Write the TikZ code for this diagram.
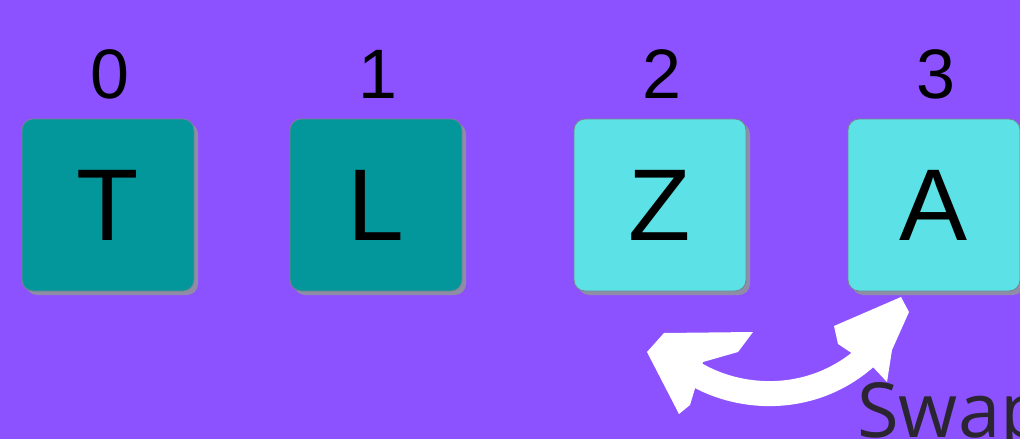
\documentclass[tikz,border=0pt]{standalone}
\usepackage{fontspec}
\setmainfont{Liberation Sans}
\newfontfamily\swapfont{Open Sans}
\definecolor{bgpurple}{HTML}{8C52FF}
\definecolor{darkteal}{HTML}{03979C}
\definecolor{lightcyan}{HTML}{5CE1E6}
\definecolor{shadowgray}{HTML}{8E8CA6}
\definecolor{edgegray}{HTML}{7A8290}
\definecolor{swapgray}{HTML}{2A2530}
\tikzset{
  tile/.style={rounded corners=11pt, minimum width=172pt, minimum height=172pt,
    draw=edgegray, line width=0.8pt, inner sep=0pt,
    font=\fontsize{102}{102}\selectfont},
  tileshadow/.style={rounded corners=11pt, minimum width=172pt, minimum height=172pt,
    fill=shadowgray, draw=none, inner sep=0pt},
  idx/.style={font=\fontsize{70}{70}\selectfont, inner sep=0pt},
  swaparrow/.style={white, line width=25pt},
}
\begin{document}
\begin{tikzpicture}[x=1pt,y=-1pt]
\useasboundingbox (0,0) rectangle (1020,439);
\clip (0,0) rectangle (1020,439);
\fill[bgpurple] (0,0) rectangle (1020,439);
% shadows
\foreach \cx in {108,376,660,934} {
  \node[tileshadow] at (\cx+4,209) {};
}
% tiles
\node[tile, fill=darkteal] (t0) at (108,205) {T};
\node[tile, fill=darkteal] (t1) at (376,205) {L};
\node[tile, fill=lightcyan] (t2) at (660,205) {Z};
\node[tile, fill=lightcyan] (t3) at (934,205) {A};
% indices
\node[idx] (i0) at (110,74) {0};
\node[idx] (i1) at (378,74) {1};
\node[idx] (i2) at (662,74) {2};
\node[idx] (i3) at (936,74) {3};
% swap arrow
\coordinate (aL) at (692,372);
\coordinate (aR) at (884,338);
\draw[swaparrow] (aL) .. controls (745,405) and (830,405) .. (aR);
\fill[white] (647,352) -- (664,333) -- (753,332) -- (738,352) -- (703,362) -- (690,405) -- (679,414) -- cycle;
\fill[white] (834,326) -- (901,297) -- (909,312) -- (892,350) -- (887,382) -- (872,366) -- (850,352) -- (838,344) -- cycle;
% label
\node[anchor=base west, inner sep=0pt, text=swapgray, font=\swapfont\fontsize{76}{76}\selectfont] (swap) at (857,437) {Swap};
\end{tikzpicture}
\end{document}
